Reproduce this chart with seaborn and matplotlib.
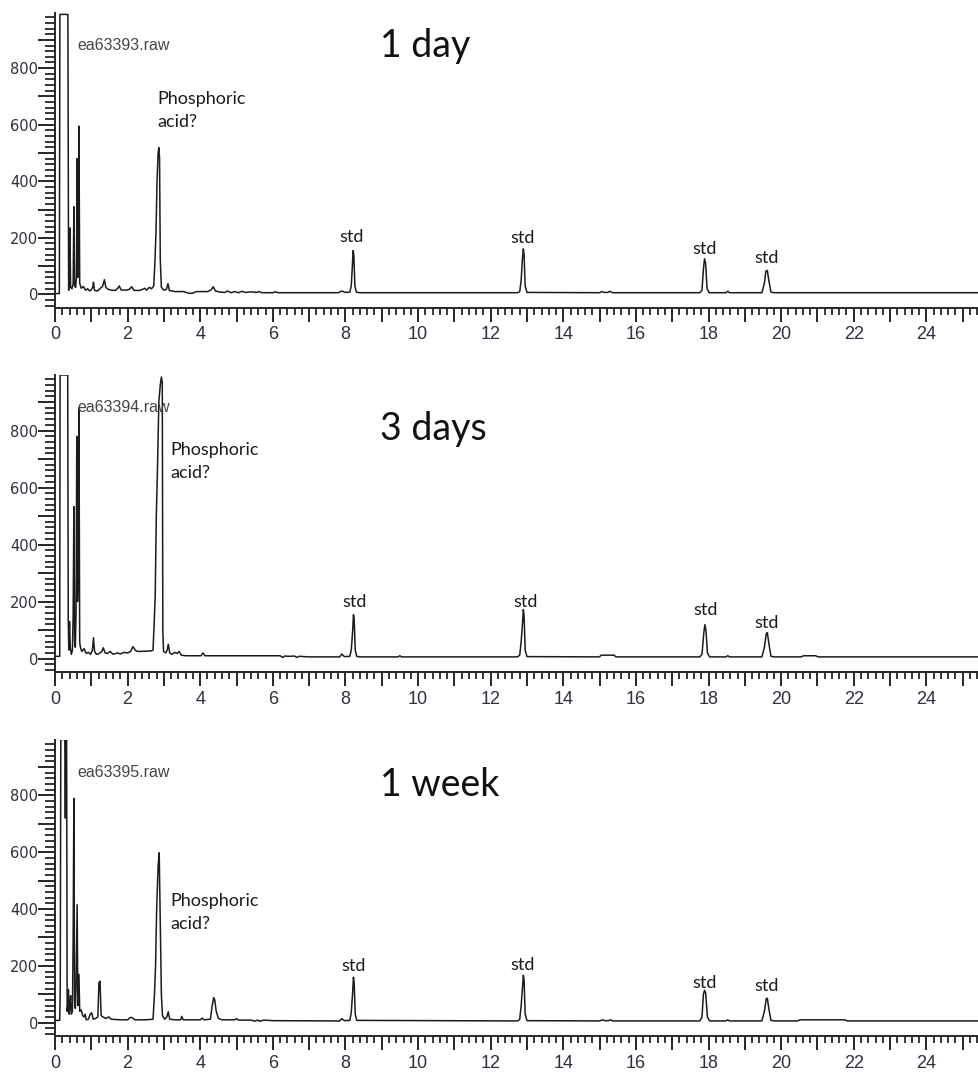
import matplotlib
matplotlib.use("Agg")
import matplotlib.pyplot as plt
from matplotlib.ticker import MultipleLocator, FuncFormatter
import seaborn as sns
import pandas as pd

# Chromatogram traces: (retention time [min], detector response)
run_1day = [
    (0.00, 3), (0.12, 3), (0.135, 990), (0.355, 990), (0.375, 15), (0.39, 30), (0.41, 235),
    (0.43, 25), (0.47, 20), (0.50, 40), (0.52, 310), (0.54, 30), (0.57, 25), (0.59, 60),
    (0.61, 480), (0.625, 60), (0.645, 120), (0.66, 595), (0.68, 40), (0.72, 22), (0.78, 28),
    (0.84, 15), (0.90, 20), (0.96, 12), (1.01, 18), (1.04, 25), (1.06, 43), (1.09, 14),
    (1.17, 12), (1.25, 22), (1.31, 28), (1.36, 52), (1.40, 25), (1.46, 18), (1.55, 15),
    (1.66, 14), (1.73, 22), (1.77, 30), (1.82, 16), (1.95, 15), (2.05, 18), (2.11, 27),
    (2.18, 14), (2.32, 14), (2.42, 18), (2.47, 22), (2.52, 15), (2.60, 25), (2.66, 20),
    (2.72, 30), (2.75, 110), (2.78, 210), (2.81, 400), (2.84, 500), (2.86, 519), (2.88, 480),
    (2.90, 120), (2.93, 25), (3.00, 15), (3.07, 18), (3.11, 38), (3.15, 14), (3.30, 10),
    (3.55, 10), (3.68, 4), (3.78, 4), (3.90, 10), (4.20, 10), (4.30, 16), (4.36, 27),
    (4.42, 12), (4.55, 8), (4.68, 7), (4.75, 12), (4.85, 6), (4.95, 10), (5.05, 6),
    (5.15, 11), (5.25, 7), (5.40, 9), (5.55, 7), (5.62, 10), (5.70, 6), (6.00, 6),
    (6.05, 9), (6.15, 6), (6.40, 6), (7.80, 6), (7.90, 12), (8.00, 7), (8.12, 8),
    (8.16, 30), (8.19, 100), (8.21, 155), (8.23, 140), (8.26, 30), (8.30, 8), (8.40, 6),
    (12.74, 6), (12.80, 10), (12.84, 50), (12.87, 120), (12.90, 161), (12.92, 140),
    (12.95, 30), (13.00, 7), (15.00, 6), (15.06, 10), (15.12, 7), (15.22, 7), (15.28, 11),
    (15.36, 6), (17.76, 6), (17.82, 15), (17.86, 90), (17.89, 126), (17.92, 110),
    (17.96, 20), (18.02, 6), (18.48, 6), (18.53, 11), (18.58, 6), (19.47, 6), (19.54, 40),
    (19.58, 82), (19.62, 85), (19.66, 50), (19.72, 8), (19.80, 6), (25.50, 6),
]

run_3days = [
    (0.00, 8), (0.13, 8), (0.14, 995), (0.35, 995), (0.365, 140), (0.38, 30), (0.40, 130),
    (0.42, 40), (0.45, 15), (0.48, 30), (0.50, 150), (0.52, 533), (0.54, 60), (0.56, 40),
    (0.58, 160), (0.60, 780), (0.62, 200), (0.64, 300), (0.66, 880), (0.68, 60), (0.70, 40),
    (0.74, 25), (0.80, 35), (0.86, 18), (0.92, 22), (0.98, 15), (1.03, 30), (1.06, 73),
    (1.09, 25), (1.14, 15), (1.22, 18), (1.29, 25), (1.33, 38), (1.38, 20), (1.45, 18),
    (1.52, 25), (1.60, 15), (1.72, 20), (1.80, 16), (1.90, 22), (2.00, 20), (2.08, 25),
    (2.15, 42), (2.22, 28), (2.30, 25), (2.50, 26), (2.65, 27), (2.70, 30), (2.73, 120),
    (2.76, 220), (2.79, 500), (2.82, 650), (2.86, 900), (2.90, 960), (2.93, 988),
    (2.955, 970), (2.97, 100), (2.99, 25), (3.05, 20), (3.09, 30), (3.12, 50), (3.16, 20),
    (3.22, 15), (3.30, 22), (3.36, 18), (3.42, 25), (3.48, 12), (3.60, 10), (4.02, 10),
    (4.08, 20), (4.13, 10), (4.50, 10), (5.50, 10), (6.20, 10), (6.27, 4), (6.33, 9),
    (6.45, 8), (6.60, 9), (6.66, 4), (6.72, 8), (7.00, 6), (7.84, 6), (7.90, 16), (7.97, 7),
    (8.12, 8), (8.16, 30), (8.20, 100), (8.22, 154), (8.24, 140), (8.27, 30), (8.31, 8),
    (8.40, 6), (9.45, 6), (9.50, 10), (9.55, 6), (12.74, 6), (12.80, 12), (12.84, 60),
    (12.88, 130), (12.90, 172), (12.92, 150), (12.95, 30), (13.00, 7), (15.00, 6),
    (15.04, 12), (15.40, 12), (15.45, 6), (17.76, 6), (17.82, 15), (17.87, 90),
    (17.90, 119), (17.93, 100), (17.97, 20), (18.03, 6), (18.48, 6), (18.53, 10),
    (18.58, 6), (19.47, 6), (19.54, 40), (19.59, 88), (19.62, 91), (19.66, 55), (19.72, 8),
    (19.82, 6), (20.55, 6), (20.62, 10), (20.95, 10), (21.02, 6), (25.50, 6),
]

run_1week = [
    (0.00, 8), (0.13, 8), (0.145, 130), (0.16, 997), (0.27, 997), (0.285, 720), (0.30, 997),
    (0.32, 997), (0.335, 40), (0.35, 60), (0.37, 117), (0.39, 30), (0.41, 60), (0.43, 95),
    (0.45, 30), (0.48, 40), (0.50, 300), (0.52, 790), (0.54, 80), (0.56, 50), (0.58, 120),
    (0.61, 415), (0.63, 60), (0.66, 170), (0.68, 40), (0.72, 45), (0.76, 25), (0.80, 20),
    (0.83, 30), (0.86, 10), (0.92, 12), (0.97, 30), (1.01, 35), (1.05, 12), (1.12, 15),
    (1.18, 20), (1.21, 140), (1.24, 146), (1.27, 25), (1.32, 20), (1.40, 15), (1.48, 20),
    (1.55, 12), (1.80, 10), (2.00, 10), (2.07, 18), (2.12, 18), (2.20, 10), (2.50, 10),
    (2.70, 12), (2.74, 100), (2.77, 200), (2.80, 400), (2.84, 550), (2.87, 598),
    (2.90, 350), (2.93, 100), (2.96, 25), (3.02, 12), (3.08, 20), (3.12, 38), (3.16, 12),
    (3.30, 10), (3.46, 10), (3.49, 22), (3.53, 10), (4.00, 10), (4.05, 16), (4.10, 10),
    (4.28, 12), (4.33, 60), (4.37, 88), (4.40, 80), (4.44, 40), (4.50, 15), (4.60, 10),
    (4.95, 10), (5.00, 14), (5.05, 9), (5.40, 9), (5.50, 5), (5.58, 9), (5.65, 5),
    (5.75, 9), (6.00, 7), (7.84, 6), (7.90, 14), (7.97, 7), (8.12, 8), (8.16, 35),
    (8.20, 110), (8.22, 160), (8.24, 140), (8.27, 30), (8.31, 8), (12.74, 6), (12.80, 12),
    (12.84, 60), (12.88, 130), (12.90, 167), (12.92, 150), (12.95, 30), (13.00, 7),
    (15.00, 6), (15.08, 10), (15.14, 7), (15.24, 7), (15.30, 10), (15.36, 6), (17.76, 6),
    (17.82, 20), (17.86, 100), (17.89, 114), (17.92, 105), (17.97, 20), (18.03, 6),
    (18.48, 6), (18.53, 10), (18.58, 6), (19.47, 6), (19.54, 40), (19.59, 84), (19.62, 86),
    (19.66, 50), (19.72, 8), (19.82, 6), (20.45, 6), (20.52, 10), (21.75, 10), (21.82, 6),
    (25.50, 6),
]

file_names = ["ea63393.raw", "ea63394.raw", "ea63395.raw"]
ages = ["1 day", "3 days", "1 week"]
acid_label = "Phosphoric\nacid?"
std_label = "std"

# label anchors per panel: (time, response)
age_pos = [(8.95, 877), (8.95, 807), (8.95, 838)]
acid_pos = [(2.81, 650), (3.17, 691), (3.17, 389)]
std_pos = [
    [(8.18, 204), (12.87, 201), (17.88, 162), (19.59, 127)],
    [(8.24, 200), (12.95, 200), (17.93, 172), (19.61, 126)],
    [(8.21, 201), (12.87, 204), (17.88, 141), (19.59, 130)],
]

sns.set_theme(style="white")
plt.rcParams["font.family"] = ["Liberation Sans", "DejaVu Sans"]

W, H = 979, 1075
fig = plt.figure(figsize=(W / 100, H / 100), dpi=100)

# panel boxes in pixels: (top, bottom)
panel_px = [(13, 307.7), (375, 672), (740, 1036)]
left_px = 55

axis_col = "#262626"
label_col = "#2d3140"

for i, run in enumerate([run_1day, run_3days, run_1week]):
    top, bot = panel_px[i]
    ax = fig.add_axes([left_px / W, 1 - bot / H, 1 - left_px / W, (bot - top) / H])
    df = pd.DataFrame(run, columns=["time", "response"])
    sns.lineplot(data=df, x="time", y="response", ax=ax, estimator=None, sort=False,
                 color="#1c1c1c", linewidth=1.1)
    ax.set_xlim(0, 25.45)
    ax.set_ylim(-47, 995)
    ax.set_xlabel("")
    ax.set_ylabel("")
    for s in ["top", "right"]:
        ax.spines[s].set_visible(False)
    for s in ["left", "bottom"]:
        ax.spines[s].set_color(axis_col)
        ax.spines[s].set_linewidth(1.4)

    ax.xaxis.set_major_locator(MultipleLocator(1))
    ax.xaxis.set_minor_locator(MultipleLocator(0.2))
    ax.xaxis.set_major_formatter(FuncFormatter(
        lambda v, p: f"{int(round(v))}" if round(v) % 2 == 0 else ""))
    ax.yaxis.set_major_locator(MultipleLocator(100))
    ax.yaxis.set_minor_locator(MultipleLocator(20))
    ax.yaxis.set_major_formatter(FuncFormatter(
        lambda v, p: f"{int(round(v))}" if (round(v) % 200 == 0 and v >= 0) else ""))

    ax.tick_params(axis="x", which="major", direction="out", length=10, width=1.4,
                   color=axis_col, labelsize=13, labelcolor=label_col, pad=3.5, bottom=True)
    ax.tick_params(axis="x", which="minor", direction="out", length=5, width=1.3,
                   color=axis_col, bottom=True)
    ax.tick_params(axis="y", which="major", direction="out", length=12, width=1.4,
                   color=axis_col, labelsize=10.5, labelcolor=label_col, pad=0, left=True)
    ax.tick_params(axis="y", which="minor", direction="out", length=7, width=1.3,
                   color=axis_col, left=True)
    for lab in ax.get_yticklabels():
        lab.set_family("DejaVu Sans")

    ax.text(0.63, 881, file_names[i], fontsize=11.5, color="#454545",
            va="center", ha="left", family="Liberation Sans")
    ax.text(age_pos[i][0], age_pos[i][1], ages[i], fontsize=27, color="#111111",
            va="center", ha="left", family="Lato")
    ax.text(acid_pos[i][0], acid_pos[i][1], acid_label, fontsize=13, color="#1a1a1a",
            va="center", ha="left", family="Lato", linespacing=1.55)
    for (sx, sy) in std_pos[i]:
        ax.text(sx, sy, std_label, fontsize=13, color="#1a1a1a", va="center",
                ha="center", family="Lato")

fig.savefig("out.png", dpi=100)
